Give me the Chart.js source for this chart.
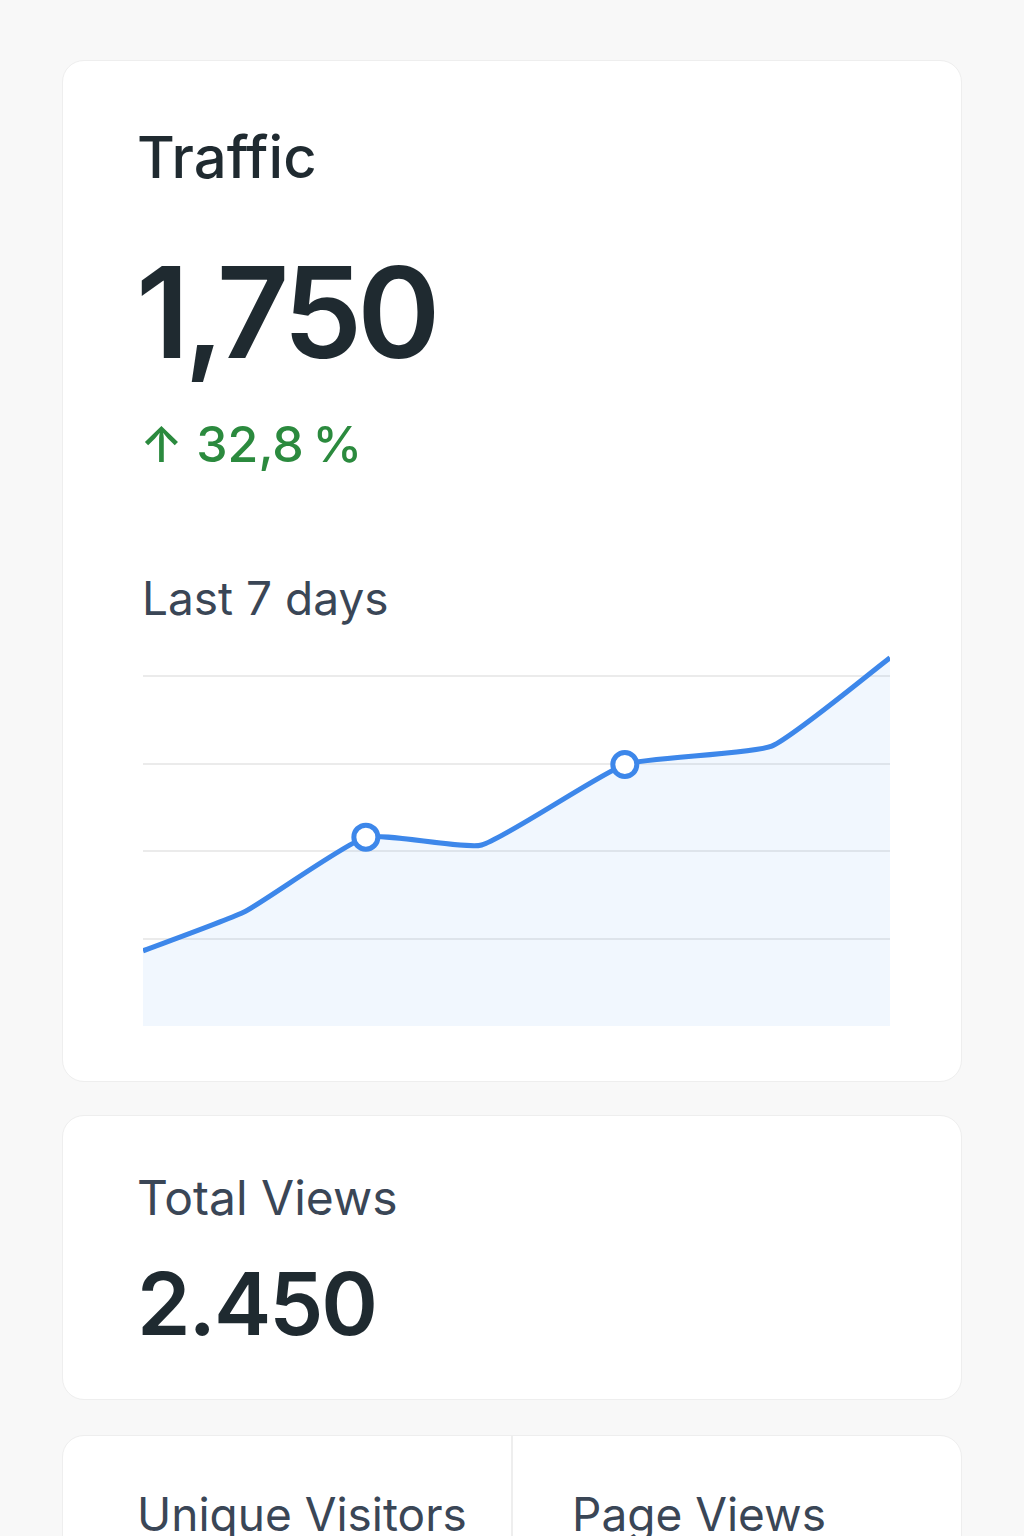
<!DOCTYPE html>
<html><head><meta charset="utf-8">
<script src="https://cdn.jsdelivr.net/npm/chart.js@4/dist/chart.umd.min.js"></script>
<style>
body{margin:0;width:1024px;height:1536px;background:#f8f8f8;font-family:Inter,"Noto Sans",sans-serif;position:relative;overflow:hidden;color:#1f2a30}
.card{position:absolute;left:62px;width:898px;background:#fff;border:1px solid #eeeeee;border-radius:22px}
.t{position:absolute;white-space:nowrap}
</style></head><body>
<div class="card" style="top:60px;height:1020px"></div>
<div class="card" style="top:1115px;height:283px"></div>
<div class="card" style="top:1435px;height:200px"></div>
<div style="position:absolute;left:511px;top:1436px;width:2px;height:110px;background:#eeeeee"></div>
<div class="t" style="left:137px;top:122px;font-size:58px;font-weight:500">Traffic</div>
<div class="t" style="left:136px;top:236px;font-size:126px;font-weight:600;letter-spacing:-5px">1,750</div>
<div class="t" style="left:140px;top:414px;font-size:50px;color:#2b8a3e;font-weight:500">↑ 32,8&#8201;%</div>
<div class="t" style="left:142px;top:570px;font-size:46px;color:#3a4656">Last 7 days</div>
<div class="t" style="left:137px;top:1168px;font-size:48px;color:#3a4656">Total Views</div>
<div class="t" style="left:137px;top:1252px;font-size:86px;font-weight:600;letter-spacing:-2px">2.450</div>
<div class="t" style="left:137px;top:1486px;font-size:46px;color:#3a4656">Unique Visitors</div>
<div class="t" style="left:572px;top:1486px;font-size:46px;color:#3a4656">Page Views</div>
<div style="position:absolute;left:143px;top:650px;width:747px;height:376px"><canvas id="c"></canvas></div>
<script>
const days=[0,0.82,1.79,2.72,3.87,5.05,6];
const visits=[86,131,216,207,299,320,421];
const markers=[0,0,1,0,1,0,0];
new Chart(document.getElementById('c'),{type:'line',
data:{datasets:[{data:days.map((d,i)=>({x:d,y:visits[i]})),borderColor:'#3d87ea',borderWidth:5,
backgroundColor:'rgba(61,135,234,0.07)',fill:'origin',tension:0.15,
pointRadius:markers.map(m=>m?12:0),pointBackgroundColor:'#fff',pointBorderColor:'#3d87ea',pointBorderWidth:5,clip:false}]},
options:{responsive:true,maintainAspectRatio:false,animation:false,
plugins:{legend:{display:false},tooltip:{enabled:false}},layout:{padding:0},
scales:{x:{type:'linear',min:0,max:6,display:false},
y:{min:0,max:430,border:{display:false},ticks:{display:false,stepSize:100},
grid:{color:c=>(c.tick.value===0||c.tick.value%100!==0)?'rgba(0,0,0,0)':'#ebebeb',lineWidth:2,drawTicks:false}}}}});
</script></body></html>
